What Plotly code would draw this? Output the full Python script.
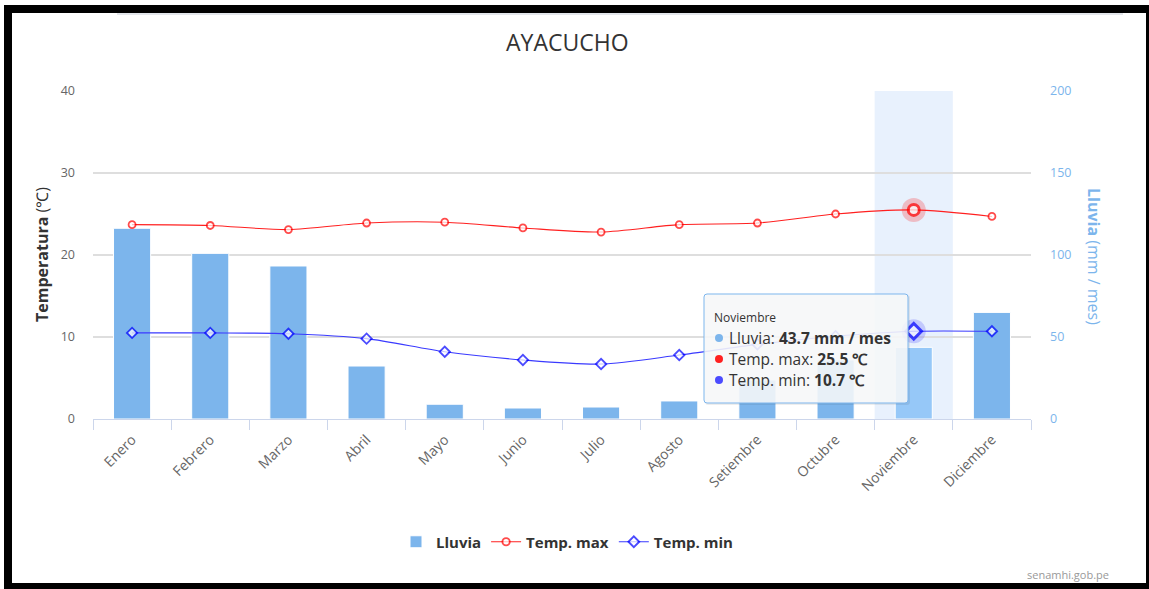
import plotly.graph_objects as go

# Monthly climate normals for Ayacucho
meses = ["Enero", "Febrero", "Marzo", "Abril", "Mayo", "Junio", "Julio",
         "Agosto", "Setiembre", "Octubre", "Noviembre", "Diciembre"]
lluvia = [116.3, 101.0, 93.3, 32.3, 9.0, 6.7, 7.3, 11.0, 23.8, 36.0, 43.7, 65.0]
temp_max = [23.7, 23.6, 23.1, 23.9, 24.0, 23.3, 22.8, 23.7, 23.9, 25.0, 25.5, 24.7]
temp_min = [10.5, 10.5, 10.4, 9.8, 8.2, 7.2, 6.7, 7.8, 9.1, 10.1, 10.7, 10.7]
eje_temp = [0, 10, 20, 30, 40]
eje_lluvia = [0, 50, 100, 150, 200]

W, H = 1149, 589
L, R, T, B = 93, 1031, 91, 419   # plot area in page pixels

# highlighted month (hover state)
sel = meses.index("Noviembre")

BLUE_BAR = "#7cb5ec"
FONT = "Open Sans"


def px(x):
    return (x - L) / (R - L)


def py(y):
    return (B - y) / (B - T)


bar_colors = [BLUE_BAR] * len(meses)
bar_colors[sel] = "#96c8f8"

max_sizes = [7] * len(meses)
max_sizes[sel] = 11
max_widths = [1.8] * len(meses)
max_widths[sel] = 3
min_sizes = [8] * len(meses)
min_sizes[sel] = 12
min_widths = [1.8] * len(meses)
min_widths[sel] = 3

fig = go.Figure()

fig.add_trace(go.Bar(
    x=meses, y=lluvia, name="Lluvia", yaxis="y", width=0.475,
    marker=dict(color=bar_colors, line=dict(color="white", width=1)),
))

# halos around the highlighted points
fig.add_trace(go.Scatter(
    x=[meses[sel]], y=[temp_max[sel]], yaxis="y2", mode="markers",
    marker=dict(size=24, color="rgba(255,0,0,0.22)"), showlegend=False,
))
fig.add_trace(go.Scatter(
    x=[meses[sel]], y=[temp_min[sel]], yaxis="y2", mode="markers",
    marker=dict(size=24, color="rgba(60,60,255,0.22)"), showlegend=False,
))

fig.add_trace(go.Scatter(
    x=meses, y=temp_max, name="Temp. max", yaxis="y2", mode="lines+markers",
    line=dict(color="#ff2020", width=1.1, shape="spline", smoothing=0.8),
    marker=dict(symbol="circle", size=max_sizes, color="white",
                line=dict(color="#ff0000", width=max_widths)),
))
fig.add_trace(go.Scatter(
    x=meses, y=temp_min, name="Temp. min", yaxis="y2", mode="lines+markers",
    line=dict(color="#3a3aff", width=1.1, shape="spline", smoothing=0.8),
    marker=dict(symbol="diamond", size=min_sizes, color="white",
                line=dict(color="#0000ff", width=min_widths)),
))

shapes = []

# hover band over the highlighted category
shapes.append(dict(type="rect", xref="x", yref="paper", x0=sel - 0.5, x1=sel + 0.5,
                   y0=0, y1=1, fillcolor="#e8f1fd", line=dict(width=0), layer="below"))


def rect(x0, y0, x1, y1, color, layer="above"):
    return dict(type="rect", xref="paper", yref="paper",
                x0=px(x0), x1=px(x1), y0=py(y1), y1=py(y0),
                fillcolor=color, line=dict(width=0), layer=layer)


def dot(xc, yc, r, color):
    return dict(type="circle", xref="paper", yref="paper",
                x0=px(xc - r), x1=px(xc + r), y0=py(yc + r), y1=py(yc - r),
                fillcolor=color, line=dict(width=0), layer="above")


def rounded(x0, y0, x1, y1, r):
    X0, X1 = px(x0), px(x1)
    Y0, Y1 = py(y0), py(y1)
    rx, ry = r / (R - L), r / (B - T)
    return (f"M {X0 + rx},{Y0} L {X1 - rx},{Y0} Q {X1},{Y0} {X1},{Y0 - ry} "
            f"L {X1},{Y1 + ry} Q {X1},{Y1} {X1 - rx},{Y1} L {X0 + rx},{Y1} "
            f"Q {X0},{Y1} {X0},{Y1 + ry} L {X0},{Y0 - ry} Q {X0},{Y0} {X0 + rx},{Y0} Z")


# tooltip box with a faint shadow
tx0, ty0, tx1, ty1 = 704, 294, 908, 403
shapes.append(dict(type="path", xref="paper", yref="paper",
                   path=rounded(tx0 + 1, ty0 + 1, tx1 + 2, ty1 + 2, 3),
                   fillcolor="rgba(0,0,0,0.07)", line=dict(width=0), layer="above"))
shapes.append(dict(type="path", xref="paper", yref="paper",
                   path=rounded(tx0, ty0, tx1, ty1, 3),
                   fillcolor="rgba(248,249,251,0.88)",
                   line=dict(color=BLUE_BAR, width=1), layer="above"))

# page frame
shapes.append(rect(117, 13, 1123, 15, "#e3e6eb"))
shapes.append(rect(4, 5, W, 13, "black"))
shapes.append(rect(4, 5, 12, H, "black"))
shapes.append(rect(4, 583, W, H, "black"))
shapes.append(rect(1146, 5, W, H, "black"))

annotations = [
    dict(text="AYACUCHO", x=px(567), y=py(42), xref="paper", yref="paper",
         showarrow=False, xanchor="center", yanchor="middle",
         font=dict(family=FONT, size=23, color="#333333")),
    dict(text="<b>Temperatura</b> (℃)", x=px(42), y=0.5, xref="paper", yref="paper",
         showarrow=False, textangle=-90, xanchor="center", yanchor="middle",
         font=dict(family=FONT, size=16, color="#333333")),
    dict(text="<b>Lluvia</b> (mm / mes)", x=px(1094), y=py(256), xref="paper", yref="paper",
         showarrow=False, textangle=90, xanchor="center", yanchor="middle",
         font=dict(family=FONT, size=16, color=BLUE_BAR)),
    dict(text="senamhi.gob.pe", x=px(1111), y=py(574), xref="paper", yref="paper",
         showarrow=False, xanchor="right", yanchor="middle",
         font=dict(family=FONT, size=11, color="#999999")),
]

# tooltip text with coloured bullets
annotations.append(dict(text=meses[sel], x=px(712), y=py(317), xref="paper", yref="paper",
                        showarrow=False, xanchor="left", yanchor="middle",
                        font=dict(family=FONT, size=12, color="#333333")))
tip_rows = [
    (BLUE_BAR, f"Lluvia: <b>{lluvia[sel]:.1f} mm / mes</b>", 338),
    ("#ff2020", f"Temp. max: <b>{temp_max[sel]:.1f} ℃</b>", 359),
    ("#4b4bff", f"Temp. min: <b>{temp_min[sel]:.1f} ℃</b>", 380),
]
for color, txt, yc in tip_rows:
    shapes.append(dot(719, yc, 4, color))
    annotations.append(dict(text=txt, x=px(727), y=py(yc), xref="paper", yref="paper",
                            showarrow=False, xanchor="left", yanchor="middle", align="left",
                            font=dict(family=FONT, size=15.5, color="#333333")))

fig.update_layout(
    width=W, height=H,
    margin=dict(l=L, r=W - R, t=T, b=H - B, pad=0),
    paper_bgcolor="white", plot_bgcolor="rgba(0,0,0,0)",
    font=dict(family=FONT, color="#333333"),
    hovermode=False,
    showlegend=True,
    legend=dict(orientation="h", x=px(567), xanchor="center", y=py(542), yanchor="middle",
                font=dict(family=FONT, size=15, color="#333333", weight="bold"),
                itemwidth=30, bgcolor="rgba(0,0,0,0)"),
    xaxis=dict(type="category", range=[-0.5, len(meses) - 0.5], tickson="boundaries",
               ticks="outside", ticklen=10, tickcolor="#ccd6eb", tickwidth=1,
               showline=True, linecolor="#ccd6eb", linewidth=1, showgrid=False,
               tickangle=-45, ticklabelstandoff=6,
               tickfont=dict(family=FONT, size=14, color="#666666")),
    yaxis=dict(side="right", range=[0, 200], tickvals=eje_lluvia, showgrid=True,
               gridcolor="#dedede", gridwidth=1.5, zeroline=False, showline=False,
               ticks="", ticklabelstandoff=18,
               tickfont=dict(family=FONT, size=12.5, color=BLUE_BAR)),
    yaxis2=dict(side="left", overlaying="y", range=[0, 40], tickvals=eje_temp,
                showgrid=False, zeroline=False, showline=False, ticks="",
                ticklabelstandoff=17,
                tickfont=dict(family=FONT, size=12.5, color="#666666")),
    shapes=shapes,
    annotations=annotations,
)

fig.write_html("out.html")
